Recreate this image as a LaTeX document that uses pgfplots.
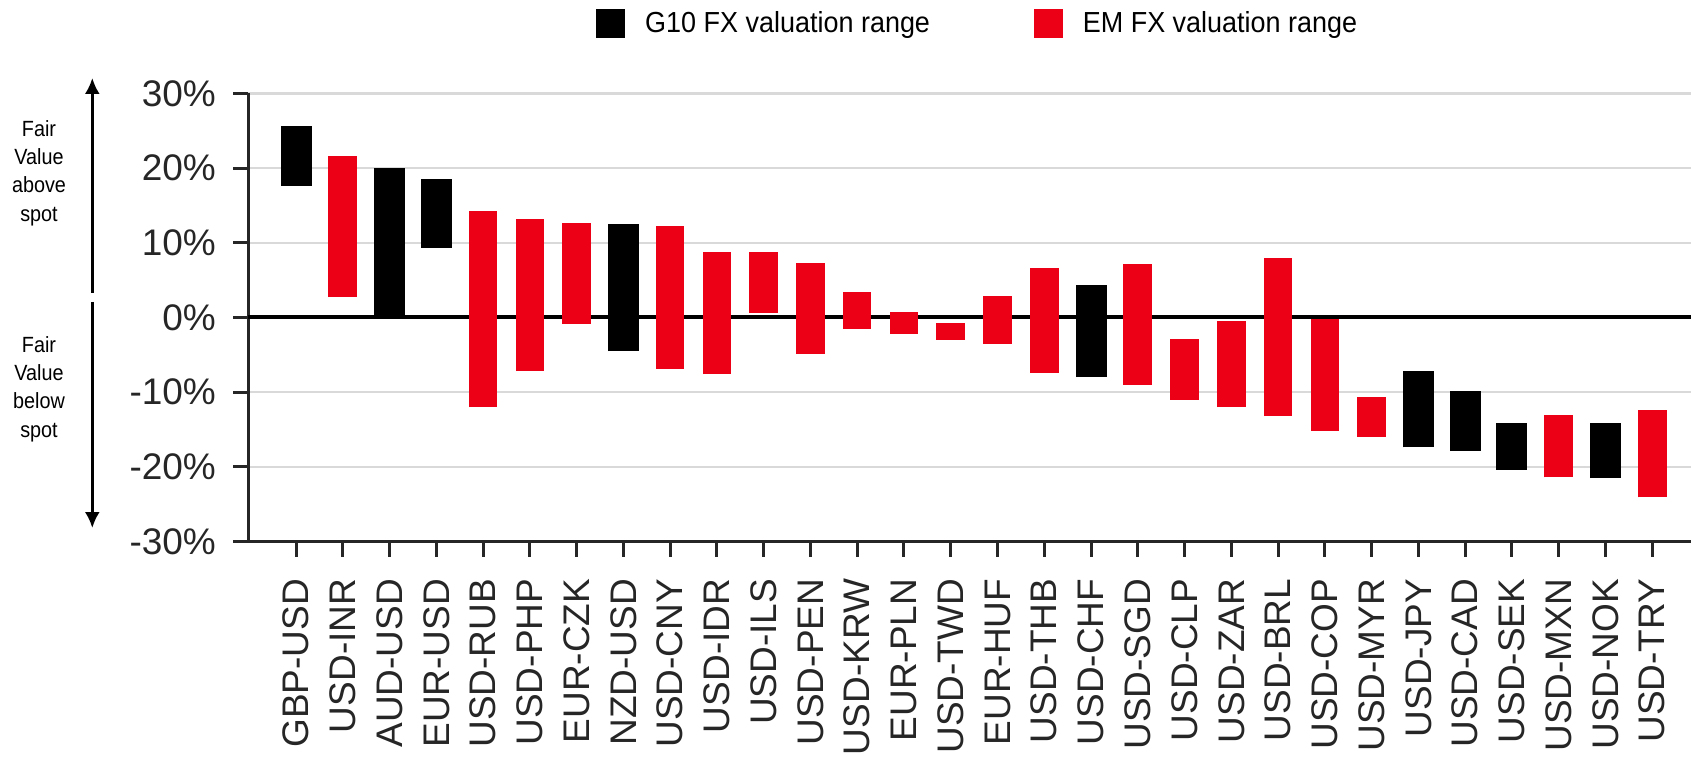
\documentclass[border=0pt]{standalone}
\usepackage{fontspec}
\setmainfont{Liberation Sans}
\newfontfamily\narrowfont[FakeStretch=0.93]{Liberation Sans}
\newfontfamily\sidefont[FakeStretch=0.9]{Liberation Sans}
\usepackage{pgfplots}
\pgfplotsset{compat=1.18}
\usepackage{pgfplotstable}
\usetikzlibrary{arrows.meta}
\definecolor{emred}{RGB}{236,0,22}
\definecolor{axisgray}{RGB}{38,38,38}
\definecolor{gridgray}{RGB}{217,217,217}

% G10 FX valuation range: category index, low, high (%)
\pgfplotstableread{
x low high
0 17.6 25.6
2 0.3 20.0
3 9.3 18.5
7 -4.5 12.5
17 -8.0 4.3
24 -17.4 -7.2
25 -17.9 -9.9
26 -20.4 -14.1
28 -21.5 -14.2
}\gten

% EM FX valuation range
\pgfplotstableread{
x low high
1 2.7 21.6
4 -12.0 14.2
5 -7.2 13.2
6 -0.9 12.7
8 -6.9 12.2
9 -7.6 8.7
10 0.6 8.7
11 -4.9 7.3
12 -1.5 3.35
13 -2.2 0.67
14 -3.0 -0.77
15 -3.5 2.8
16 -7.4 6.6
18 -9.0 7.1
19 -11.05 -2.9
20 -12.0 -0.5
21 -13.2 7.9
22 -15.2 -0.24
23 -16.0 -10.6
27 -21.4 -13.1
29 -24.1 -12.4
}\emfx

\begin{document}
\begin{tikzpicture}
\useasboundingbox (0,0) rectangle (845.5pt,378pt);
\begin{axis}[
  scale only axis,
  width=721.35pt, height=224.1pt,
  at={(124.15pt,107.25pt)}, anchor=south west,
  xmin=-1.02, xmax=29.83, ymin=-30, ymax=30,
  axis x line*=bottom, axis y line*=left,
  axis line style={axisgray, line width=1.5pt},
  xtick={0,...,29},
  xticklabels={GBP-USD,USD-INR,AUD-USD,EUR-USD,USD-RUB,USD-PHP,EUR-CZK,NZD-USD,USD-CNY,USD-IDR,USD-ILS,USD-PEN,USD-KRW,EUR-PLN,USD-TWD,EUR-HUF,USD-THB,USD-CHF,USD-SGD,USD-CLP,USD-ZAR,USD-BRL,USD-COP,USD-MYR,USD-JPY,USD-CAD,USD-SEK,USD-MXN,USD-NOK,USD-TRY},
  ytick={-30,-20,-10,0,10,20,30},
  yticklabels={-30\%,-20\%,-10\%,0\%,10\%,20\%,30\%},
  tick align=outside,
  x tick style={axisgray, line width=1.5pt},
  y tick style={axisgray, line width=1.5pt},
  xmajorticks=true, ymajorticks=true,
  major tick length=7.5pt,
  ymajorgrids, grid style={gridgray, line width=1.2pt},
  extra y ticks={0}, extra y tick labels={},
  extra y tick style={grid style={black, line width=2pt}},
  xticklabel shift=11pt,
  yticklabel shift=8.5pt,
  xticklabel style={rotate=90, anchor=east, inner sep=0pt, font=\fontsize{18.5}{18.5}\selectfont, text=black!85},
  yticklabel style={anchor=east, inner sep=0pt, font=\fontsize{18.5}{18.5}\selectfont, text=black!85},
  legend columns=2,
  legend cell align=left,
  legend style={draw=none, fill=none, at={(0.2410,1.1881)}, anchor=north west,
    font=\narrowfont\fontsize{14.5}{14.5}\selectfont, inner sep=0pt,
    nodes={inner sep=0pt},
    /tikz/every odd column/.append style={column sep=10pt},
    /tikz/every even column/.append style={column sep=52pt}},
]
\addlegendimage{legend image code/.code={\fill[black] (0pt,-7pt) rectangle (14pt,7pt);}}
\addlegendentry{G10 FX valuation range}
\addlegendimage{legend image code/.code={\fill[emred] (0pt,-7pt) rectangle (14pt,7pt);}}
\addlegendentry{EM FX valuation range}

\addplot[draw=none, mark=none, forget plot,
  error bars/.cd, y dir=plus, y explicit, error mark=none,
  error bar style={draw=black, line width=15.5pt}]
  table[x=x, y=low, y error expr=\thisrow{high}-\thisrow{low}] {\gten};
\addplot[draw=none, mark=none, forget plot,
  error bars/.cd, y dir=plus, y explicit, error mark=none,
  error bar style={draw=emred, line width=14.3pt}]
  table[x=x, y=low, y error expr=\thisrow{high}-\thisrow{low}] {\emfx};
\end{axis}

\draw[line width=1.3pt, -{Latex[length=8pt,width=7.5pt]}] (46.15pt,231.6pt) -- (46.15pt,339pt);
\draw[line width=1.3pt, -{Latex[length=8pt,width=7.5pt]}] (46.15pt,227pt) -- (46.15pt,114pt);
\node[align=center, font=\sidefont\fontsize{11}{14.2}\selectfont] at (19.5pt,291.5pt) {Fair\\Value\\above\\spot};
\node[align=center, font=\sidefont\fontsize{11}{14.2}\selectfont] at (19.5pt,183.5pt) {Fair\\Value\\below\\spot};
\end{tikzpicture}
\end{document}
